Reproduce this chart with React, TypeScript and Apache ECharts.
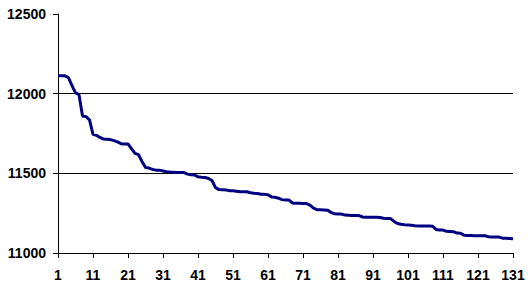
import React, { useEffect, useRef } from "react";
import * as echarts from "echarts";

const categories: string[] = Array.from({ length: 131 }, (_, i) => String(i + 1));

const values: number[] = [
  12112, 12112, 12112, 12100, 12050, 12005, 11994, 11860, 11856, 11835,
  11745, 11738, 11725, 11715, 11714, 11712, 11705, 11697, 11686, 11684,
  11684, 11655, 11625, 11617, 11575, 11537, 11533, 11525, 11520, 11520,
  11515, 11510, 11508, 11507, 11506, 11506, 11505, 11495, 11491, 11490,
  11478, 11475, 11474, 11468, 11455, 11410, 11398, 11397, 11396, 11391,
  11390, 11388, 11385, 11385, 11384, 11378, 11375, 11373, 11369, 11368,
  11365, 11352, 11350, 11344, 11335, 11333, 11332, 11314, 11312, 11312,
  11311, 11310, 11300, 11282, 11272, 11271, 11270, 11269, 11255, 11246,
  11245, 11244, 11238, 11237, 11236, 11236, 11235, 11226, 11225, 11225,
  11224, 11224, 11223, 11218, 11217, 11216, 11198, 11185, 11180, 11177,
  11176, 11174, 11171, 11170, 11170, 11169, 11169, 11168, 11148, 11145,
  11144, 11136, 11135, 11134, 11125, 11124, 11112, 11110, 11110, 11109,
  11109, 11108, 11108, 11102, 11101, 11101, 11100, 11093, 11092, 11091,
  11090,
];

const yMin = 11000;
const yMax = 12500;
const yStep = 500;

export default function App() {
  const ref = useRef<HTMLDivElement>(null);
  useEffect(() => {
    if (!ref.current) return;
    const chart = echarts.init(ref.current, undefined, { renderer: "svg" });
    const font = {
      fontFamily: "Liberation Sans, Arial, sans-serif",
      fontWeight: "bold" as const,
      fontSize: 14,
      color: "#000",
    };
    chart.setOption({
      animation: false,
      backgroundColor: "#fff",
      grid: { left: 58, right: 15, top: 14, bottom: 34, containLabel: false },
      xAxis: {
        type: "category",
        data: categories,
        boundaryGap: false,
        axisLine: { show: true, lineStyle: { color: "#000", width: 1 } },
        axisTick: { show: true, interval: 9, length: 5, inside: false, lineStyle: { color: "#000" } },
        axisLabel: { ...font, interval: 9, margin: 15 },
        splitLine: { show: false },
      },
      yAxis: {
        type: "value",
        min: yMin,
        max: yMax,
        interval: yStep,
        axisLine: { show: true, lineStyle: { color: "#000", width: 1 } },
        axisTick: { show: true, length: 5, inside: false, lineStyle: { color: "#000" } },
        axisLabel: { ...font, margin: 12, formatter: (v: number) => String(v) },
        splitLine: {
          show: true,
          showMinLine: false,
          showMaxLine: false,
          lineStyle: { color: "#000", width: 1, type: "solid" },
        },
      },
      series: [
        {
          type: "line",
          data: values,
          showSymbol: false,
          symbol: "none",
          lineStyle: { color: "#000080", width: 3 },
          smooth: false,
        },
      ],
    });
    return () => chart.dispose();
  }, []);
  return (
    <div
      ref={ref}
      style={{ position: "absolute", left: 0, top: 0, width: 528, height: 287 }}
    />
  );
}
